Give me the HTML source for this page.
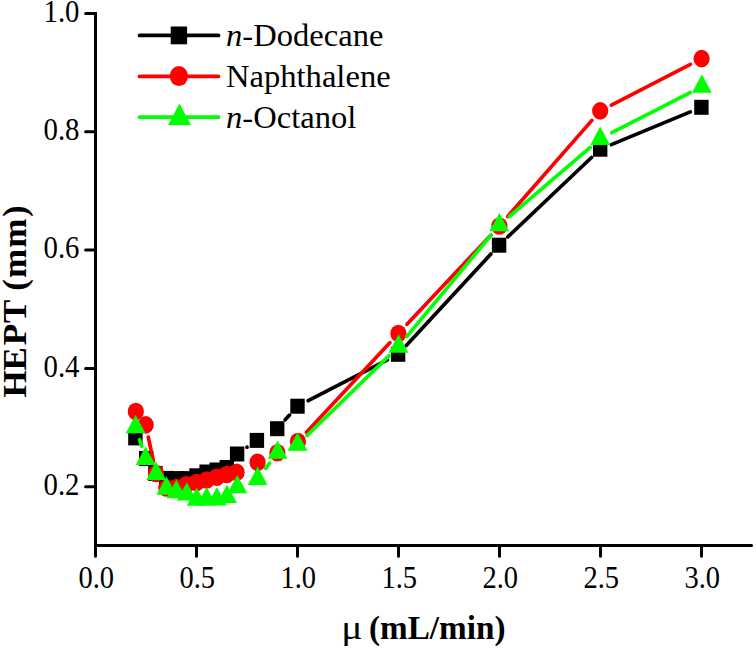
<!DOCTYPE html>
<html><head><meta charset="utf-8"><style>
html,body{margin:0;padding:0;background:#fff;font-family:"Liberation Serif",serif;overflow:hidden;}
svg{display:block;}
</style></head><body>
<svg width="756" height="649" viewBox="0 0 756 649">
<rect width="756" height="649" fill="#fff"/>
<path d="M95.5 11.9V546.9M94.0 545.4H751.5" stroke="#000" stroke-width="3.0" fill="none"/><path d="M700 545.4H751.5" stroke="#000" stroke-width="3.0" stroke-linecap="round"/>
<path d="M95.5 545.4V556.2 M196.5 545.4V556.2 M297.5 545.4V556.2 M398.5 545.4V556.2 M499.5 545.4V556.2 M600.5 545.4V556.2 M701.5 545.4V556.2 M85.6 486.8H95.5 M85.6 368.4H95.5 M85.6 250.1H95.5 M85.6 131.7H95.5 M85.6 13.4H95.5" stroke="#000" stroke-width="3.0" fill="none" stroke-linecap="round"/>
<g font-family="Liberation Serif, serif" font-size="30" fill="#000"><text transform="translate(96.3,588.3) scale(0.95,1.07)" text-anchor="middle">0.0</text><text transform="translate(197.3,588.3) scale(0.95,1.07)" text-anchor="middle">0.5</text><text transform="translate(298.3,588.3) scale(0.95,1.07)" text-anchor="middle">1.0</text><text transform="translate(399.3,588.3) scale(0.95,1.07)" text-anchor="middle">1.5</text><text transform="translate(500.3,588.3) scale(0.95,1.07)" text-anchor="middle">2.0</text><text transform="translate(601.3,588.3) scale(0.95,1.07)" text-anchor="middle">2.5</text><text transform="translate(702.3,588.3) scale(0.95,1.07)" text-anchor="middle">3.0</text><text transform="translate(79.5,495.0) scale(0.96,1.07)" text-anchor="end">0.2</text><text transform="translate(79.5,376.6) scale(0.96,1.07)" text-anchor="end">0.4</text><text transform="translate(79.5,258.3) scale(0.96,1.07)" text-anchor="end">0.6</text><text transform="translate(79.5,139.9) scale(0.96,1.07)" text-anchor="end">0.8</text><text transform="translate(79.5,21.6) scale(0.96,1.07)" text-anchor="end">1.0</text></g>
<text transform="translate(341.2,639.4) scale(1.2,1.02)" font-family="Liberation Serif, serif" font-size="33" fill="#000">&#956;</text>
<text x="369.0" y="639.3" font-family="Liberation Serif, serif" font-size="33.2" font-weight="bold" fill="#000">(mL/min)</text>
<text transform="translate(25.6,397.4) rotate(-90) scale(1,0.985)" font-family="Liberation Serif, serif" font-size="35" font-weight="bold" fill="#000" dx="0 -0.4 1.9 0.9 0 0.9 1.0 1.1 1.7">HEPT (mm)</text>
<path d="M247.0 447.2L247.0 447.2 M285.2 419.8L289.5 415.1 M308.2 400.7L387.4 359.8 M406.3 345.5L490.9 254.0 M507.8 236.9L591.5 157.5 M611.3 144.6L690.3 111.9" stroke="#000" stroke-width="3.7" fill="none" stroke-linecap="round"/>
<g fill="#000"><rect x="128.2" y="430.4" width="14.4" height="15.0"/><rect x="139.0" y="451.0" width="14.4" height="15.0"/><rect x="148.2" y="466.0" width="14.4" height="15.0"/><rect x="159.0" y="470.9" width="14.4" height="15.0"/><rect x="169.1" y="471.1" width="14.4" height="15.0"/><rect x="179.2" y="471.1" width="14.4" height="15.0"/><rect x="189.3" y="468.3" width="14.4" height="15.0"/><rect x="199.4" y="464.5" width="14.4" height="15.0"/><rect x="209.5" y="462.5" width="14.4" height="15.0"/><rect x="219.6" y="460.0" width="14.4" height="15.0"/><rect x="229.9" y="446.5" width="14.4" height="15.0"/><rect x="249.7" y="432.9" width="14.4" height="15.0"/><rect x="270.0" y="421.2" width="14.4" height="15.0"/><rect x="290.3" y="398.7" width="14.4" height="15.0"/><rect x="390.9" y="346.8" width="14.4" height="15.0"/><rect x="491.9" y="237.7" width="14.4" height="15.0"/><rect x="593.0" y="141.7" width="14.4" height="15.0"/><rect x="694.2" y="99.8" width="14.4" height="15.0"/></g>
<path d="M148.3 437.2L153.4 461.2 M306.5 432.3L389.8 342.7 M407.0 324.3L490.8 235.2 M507.7 216.5L591.9 120.4 M611.4 105.1L690.4 64.4" stroke="#f00" stroke-width="3.7" fill="none" stroke-linecap="round"/>
<g fill="#f00"><ellipse cx="135.8" cy="411.5" rx="8.1" ry="8.8"/><ellipse cx="145.7" cy="424.9" rx="8.1" ry="8.8"/><ellipse cx="156.0" cy="473.5" rx="8.1" ry="8.8"/><ellipse cx="166.3" cy="488.0" rx="8.1" ry="8.8"/><ellipse cx="176.3" cy="487.5" rx="8.1" ry="8.8"/><ellipse cx="186.4" cy="484.8" rx="8.1" ry="8.8"/><ellipse cx="196.5" cy="482.5" rx="8.1" ry="8.8"/><ellipse cx="206.6" cy="480.0" rx="8.1" ry="8.8"/><ellipse cx="216.7" cy="477.3" rx="8.1" ry="8.8"/><ellipse cx="226.8" cy="474.5" rx="8.1" ry="8.8"/><ellipse cx="236.6" cy="472.3" rx="8.1" ry="8.8"/><ellipse cx="257.6" cy="462.3" rx="8.1" ry="8.8"/><ellipse cx="277.4" cy="452.7" rx="8.1" ry="8.8"/><ellipse cx="297.9" cy="441.5" rx="8.1" ry="8.8"/><ellipse cx="398.4" cy="333.5" rx="8.1" ry="8.8"/><ellipse cx="499.4" cy="226.0" rx="8.1" ry="8.8"/><ellipse cx="600.2" cy="110.9" rx="8.1" ry="8.8"/><ellipse cx="701.6" cy="58.6" rx="8.1" ry="8.8"/></g>
<path d="M139.6 439.8L141.6 446.2 M265.6 468.3L269.6 463.1 M307.1 435.5L389.0 355.8 M406.9 336.4L490.9 235.3 M509.3 216.6L590.2 147.4 M611.9 132.7L690.2 92.6" stroke="#0f0" stroke-width="3.7" fill="none" stroke-linecap="round"/>
<g fill="#0f0"><path d="M135.6 414.9L145.5 433.3L125.7 433.3Z"/><path d="M145.6 446.5L155.5 464.9L135.7 464.9Z"/><path d="M156.1 461.5L166.0 479.9L146.2 479.9Z"/><path d="M166.4 476.3L176.3 494.7L156.5 494.7Z"/><path d="M176.4 479.8L186.3 498.2L166.5 498.2Z"/><path d="M186.8 482.2L196.7 500.6L176.9 500.6Z"/><path d="M196.7 487.4L206.6 505.8L186.8 505.8Z"/><path d="M206.6 487.1L216.5 505.5L196.7 505.5Z"/><path d="M216.9 487.1L226.8 505.5L207.0 505.5Z"/><path d="M227.0 484.6L236.9 503.0L217.1 503.0Z"/><path d="M237.3 474.9L247.2 493.3L227.4 493.3Z"/><path d="M257.6 466.5L267.5 484.9L247.7 484.9Z"/><path d="M277.6 440.4L287.5 458.8L267.7 458.8Z"/><path d="M297.6 432.4L307.5 450.8L287.7 450.8Z"/><path d="M398.5 334.3L408.4 352.7L388.6 352.7Z"/><path d="M499.3 212.9L509.2 231.3L489.4 231.3Z"/><path d="M600.2 126.5L610.1 144.9L590.3 144.9Z"/><path d="M701.9 74.3L711.8 92.7L692.0 92.7Z"/></g>
<path d="M139.5 35.4H218.5" stroke="#000" stroke-width="3.7" stroke-linecap="round"/><rect x="170.70000000000002" y="26.5" width="16.4" height="17.8" fill="#000"/><text x="226" y="46.4" font-family="Liberation Serif, serif" font-size="32.6" fill="#000"><tspan font-style="italic">n</tspan>-Dodecane</text><path d="M139.5 76.4H218.5" stroke="#f00" stroke-width="3.7" stroke-linecap="round"/><ellipse cx="178.9" cy="76.10000000000001" rx="9.1" ry="10" fill="#f00"/><text x="226" y="87.4" font-family="Liberation Serif, serif" font-size="32.6" fill="#000">Naphthalene</text><path d="M139.5 117.2H218.5" stroke="#0f0" stroke-width="3.7" stroke-linecap="round"/><path d="M179.5 103.60000000000001L191.0 125.0L168.0 125.0Z" fill="#0f0"/><text x="226" y="128.2" font-family="Liberation Serif, serif" font-size="32.6" fill="#000"><tspan font-style="italic">n</tspan>-Octanol</text>
</svg>
</body></html>
